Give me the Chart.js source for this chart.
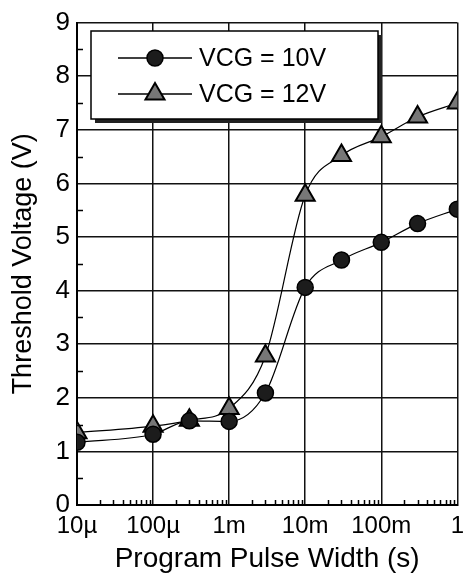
<!DOCTYPE html>
<html>
<head>
<meta charset="utf-8">
<script src="https://cdn.jsdelivr.net/npm/chart.js@4"></script>
<style>
  html, body { margin: 0; padding: 0; background: #fff; }
  #wrap { width: 471px; height: 576px; }
</style>
</head>
<body>
<div id="wrap"><canvas id="c" width="471" height="576"></canvas></div>
<script>
// ---- data ----
const pulseWidths = [1e-5, 1e-4, 3e-4, 1e-3, 3e-3, 1e-2, 3e-2, 1e-1, 3e-1, 1];
const vtVCG10 = [1.17, 1.32, 1.57, 1.56, 2.09, 4.06, 4.57, 4.90, 5.25, 5.52];
const vtVCG12 = [1.35, 1.47, 1.58, 1.80, 2.78, 5.78, 6.52, 6.87, 7.24, 7.50];
const seriesLabels = ['VCG = 10V', 'VCG = 12V'];
const xTickValues = [1e-5, 1e-4, 1e-3, 1e-2, 1e-1, 1];
const xTickLabels = ['10\u00b5', '100\u00b5', '1m', '10m', '100m', '1'];
const yTickLabels = ['0', '1', '2', '3', '4', '5', '6', '7', '8', '9'];

const FONT = "'Liberation Sans', Arial, sans-serif";

function toPoints(xs, ys) { return xs.map((x, i) => ({ x: x, y: ys[i] })); }

const minorTicks = {
  id: 'minorTicks',
  afterDraw(chart) {
    const ctx = chart.ctx, xs = chart.scales.x, ys = chart.scales.y;
    const a = chart.chartArea;
    ctx.save();
    ctx.strokeStyle = '#000';
    ctx.lineWidth = 1.5;
    ctx.beginPath();
    for (let i = 0; i < xTickValues.length - 1; i++) {
      for (let k = 2; k <= 9; k++) {
        const px = Math.round(xs.getPixelForValue(xTickValues[i] * k)) + 0.5;
        ctx.moveTo(px, a.bottom);
        ctx.lineTo(px, a.bottom - 5);
      }
    }
    for (let v = 0.5; v < 9; v += 1) {
      const py = Math.round(ys.getPixelForValue(v)) + 0.5;
      ctx.moveTo(a.left, py);
      ctx.lineTo(a.left + 6, py);
    }
    ctx.stroke();
    ctx.restore();
  }
};

function drawMarker(ctx, style, r, x, y) {
  if (style === 'circle') {
    ctx.arc(x, y, r, 0, Math.PI * 2);
  } else {
    let rad = 0;
    for (let i = 0; i < 3; i++) {
      const px = x + Math.sin(rad) * r, py = y - Math.cos(rad) * r;
      if (i === 0) ctx.moveTo(px, py); else ctx.lineTo(px, py);
      rad += Math.PI * 2 / 3;
    }
    ctx.closePath();
  }
}

const boxLegend = {
  id: 'boxLegend',
  afterDatasetsDraw(chart) {
    const ctx = chart.ctx;
    const L = 91, T = 31, W = 287, H = 88;
    ctx.save();
    ctx.fillStyle = '#222';
    ctx.fillRect(L + 4, T + 4, W, H);
    ctx.fillStyle = '#fff';
    ctx.fillRect(L, T, W, H);
    ctx.strokeStyle = '#000';
    ctx.lineWidth = 1.5;
    ctx.strokeRect(L, T, W, H);
    const rows = [58, 94];
    chart.data.datasets.forEach((ds, i) => {
      const y = rows[i];
      ctx.strokeStyle = '#000';
      ctx.lineWidth = 1.3;
      ctx.beginPath();
      ctx.moveTo(118, y);
      ctx.lineTo(192, y);
      ctx.stroke();
      ctx.fillStyle = ds.pointBackgroundColor;
      ctx.strokeStyle = ds.pointBorderColor;
      ctx.lineWidth = ds.pointBorderWidth;
      ctx.beginPath();
      drawMarker(ctx, ds.pointStyle, ds.pointRadius, 155, y);
      ctx.fill();
      ctx.stroke();
      ctx.fillStyle = '#000';
      ctx.font = '25px ' + FONT;
      ctx.textBaseline = 'middle';
      ctx.textAlign = 'left';
      ctx.fillText(ds.label, 199, y + 1);
    });
    ctx.restore();
  }
};

new Chart(document.getElementById('c'), {
  type: 'line',
  data: {
    datasets: [
      {
        label: seriesLabels[0],
        data: toPoints(pulseWidths, vtVCG10),
        borderColor: '#000',
        borderWidth: 1.2,
        cubicInterpolationMode: 'monotone',
        pointStyle: 'circle',
        pointRadius: 8,
        pointBackgroundColor: '#1c1c1c',
        pointBorderColor: '#000',
        pointBorderWidth: 1.5,
        fill: false
      },
      {
        label: seriesLabels[1],
        data: toPoints(pulseWidths, vtVCG12),
        borderColor: '#000',
        borderWidth: 1.2,
        cubicInterpolationMode: 'monotone',
        pointStyle: 'triangle',
        pointRadius: 11,
        pointBackgroundColor: '#777',
        pointBorderColor: '#000',
        pointBorderWidth: 2,
        fill: false
      }
    ]
  },
  options: {
    responsive: false,
    animation: false,
    devicePixelRatio: 1,
    layout: { padding: { left: 0, right: 8, top: 16, bottom: 0 } },
    plugins: { legend: { display: false }, tooltip: { enabled: false } },
    scales: {
      x: {
        type: 'logarithmic',
        min: 1e-5,
        max: 1,
        afterBuildTicks(s) { s.ticks = xTickValues.map(v => ({ value: v })); },
        afterFit(s) { s.height = 71; },
        ticks: {
          autoSkip: false,
          maxRotation: 0,
          padding: 7,
          color: '#000',
          font: { family: FONT, size: 24 },
          callback(v) { const i = xTickValues.indexOf(v); return i >= 0 ? xTickLabels[i] : ''; }
        },
        grid: { color: '#111', lineWidth: 1.5, drawTicks: false },
        border: { color: '#000', width: 2 },
        title: {
          display: true,
          text: 'Program Pulse Width (s)',
          color: '#000',
          font: { family: FONT, size: 28 },
          padding: { top: 0, bottom: 0 }
        }
      },
      y: {
        min: 0,
        max: 9,
        afterBuildTicks(s) { s.ticks = yTickLabels.map((t, i) => ({ value: i })); },
        afterFit(s) { s.width = 77; },
        ticks: {
          padding: 7,
          color: '#000',
          font: { family: FONT, size: 26 },
          callback(v) { return yTickLabels[v]; }
        },
        grid: { color: '#111', lineWidth: 1.5, drawTicks: false },
        border: { color: '#000', width: 2 },
        title: {
          display: true,
          text: 'Threshold Voltage (V)',
          color: '#000',
          font: { family: FONT, size: 27 },
          padding: { top: 7, bottom: 0 }
        }
      }
    }
  },
  plugins: [minorTicks, boxLegend]
});
</script>
</body>
</html>
